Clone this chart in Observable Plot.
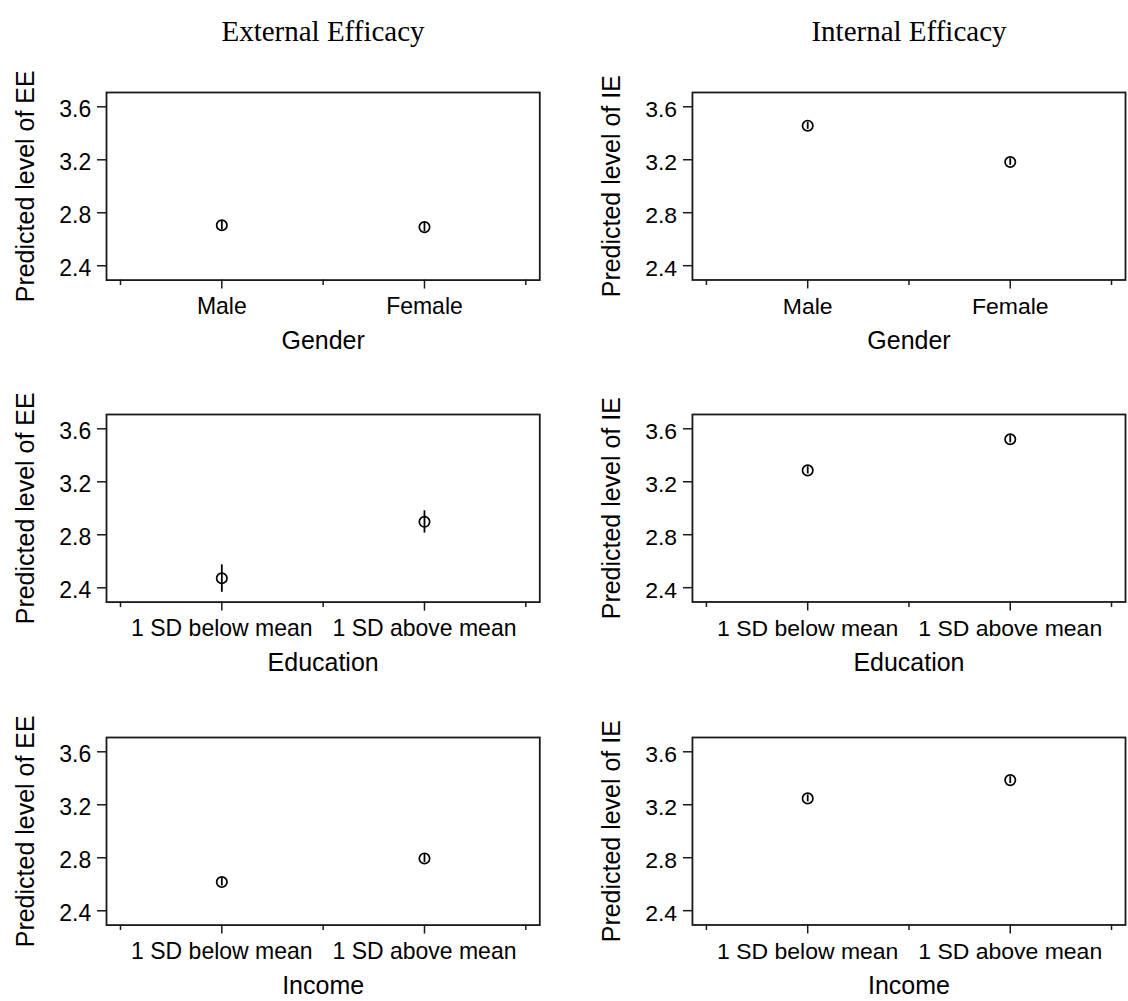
<!DOCTYPE html>
<html>
<head>
<meta charset="utf-8">
<script src="https://cdn.jsdelivr.net/npm/d3@7"></script>
<script src="https://cdn.jsdelivr.net/npm/@observablehq/plot@0.6"></script>
<style>
  html, body { margin: 0; padding: 0; background: #fff; overflow: hidden; }
  #wrap { position: relative; width: 1128px; height: 1001px; background: #fff; }
  .title { position: absolute; width: 434px; text-align: center; font-family: "Liberation Serif", "Times New Roman", serif; font-size: 29px; line-height: 29px; color: #000; }
  .panel { position: absolute; }
</style>
</head>
<body>
<div id="wrap">
  <div class="title" style="left:106px; top:17px;">External Efficacy</div>
  <div class="title" style="left:692px; top:17px;">Internal Efficacy</div>
</div>
<script>
// ---- data ----
const genderCats = ["Male", "Female"];
const sdCats = ["1 SD below mean", "1 SD above mean"];
const yTicks = [2.4, 2.8, 3.2, 3.6];
const yDomain = [2.292, 3.708];

// External efficacy (EE)
const eeGender = [2.706, 2.692];
const eeGenderLo = [2.672, 2.658];
const eeGenderHi = [2.740, 2.726];
const eeEducation = [2.472, 2.898];
const eeEducationLo = [2.366, 2.813];
const eeEducationHi = [2.573, 2.981];
const eeIncome = [2.617, 2.795];
const eeIncomeLo = [2.587, 2.765];
const eeIncomeHi = [2.647, 2.825];

// Internal efficacy (IE)
const ieGender = [3.457, 3.183];
const ieGenderLo = [3.430, 3.158];
const ieGenderHi = [3.484, 3.208];
const ieEducation = [3.286, 3.521];
const ieEducationLo = [3.259, 3.494];
const ieEducationHi = [3.313, 3.548];
const ieIncome = [3.248, 3.386];
const ieIncomeLo = [3.222, 3.360];
const ieIncomeHi = [3.274, 3.412];

const panels = [
  {row: 0, col: 0, ylab: "Predicted level of EE", xlab: "Gender", cats: genderCats, v: eeGender, lo: eeGenderLo, hi: eeGenderHi},
  {row: 0, col: 1, ylab: "Predicted level of IE", xlab: "Gender", cats: genderCats, v: ieGender, lo: ieGenderLo, hi: ieGenderHi},
  {row: 1, col: 0, ylab: "Predicted level of EE", xlab: "Education", cats: sdCats, v: eeEducation, lo: eeEducationLo, hi: eeEducationHi},
  {row: 1, col: 1, ylab: "Predicted level of IE", xlab: "Education", cats: sdCats, v: ieEducation, lo: ieEducationLo, hi: ieEducationHi},
  {row: 2, col: 0, ylab: "Predicted level of EE", xlab: "Income", cats: sdCats, v: eeIncome, lo: eeIncomeLo, hi: eeIncomeHi},
  {row: 2, col: 1, ylab: "Predicted level of IE", xlab: "Income", cats: sdCats, v: ieIncome, lo: ieIncomeLo, hi: ieIncomeHi}
];

const MT = 24, FH = 187.6, MB = 76;
const rowTops = [91.7, 414.3, 737];
const colLefts = [0, 586.3];

function makePanel(p) {
  const data = p.cats.map((c, i) => ({x: i + 1, cat: c, v: p.v[i], lo: p.lo[i], hi: p.hi[i]}));
  return Plot.plot({
    width: 542,
    height: MT + FH + MB,
    marginLeft: 106,
    marginRight: 2.7,
    marginTop: MT,
    marginBottom: MB,
    style: {fontFamily: "'Liberation Sans', Arial, Helvetica, sans-serif", fontSize: "23px", color: "#000", background: "white", overflow: "visible"},
    x: {domain: [0.431, 2.569]},
    y: {domain: yDomain},
    marks: [
      Plot.frame({stroke: "#1a1a1a", strokeWidth: 1.8}),
      Plot.axisY({ticks: yTicks, tickSize: 9, fill: "none", strokeWidth: 1.5, stroke: "#1a1a1a"}),
      Plot.axisY({ticks: yTicks, tickSize: 0, tickPadding: 15.3, dy: 3.3, tickFormat: d => d.toFixed(1), label: null, fill: "#000"}),
      Plot.axisX({ticks: [1, 2], tickSize: 9, fill: "none", strokeWidth: 1.5, stroke: "#1a1a1a"}),
      Plot.axisX({ticks: [0.5, 1.5, 2.5], tickSize: 5.5, fill: "none", strokeWidth: 1.5, stroke: "#1a1a1a"}),
      Plot.axisX({ticks: [1, 2], tickSize: 0, tickPadding: 17.7, tickFormat: d => p.cats[d - 1], label: null, fill: "#000"}),
      Plot.ruleX(data, {x: "x", y1: "lo", y2: "hi", stroke: "#000", strokeWidth: 1.8}),
      Plot.dot(data, {x: "x", y: "v", r: 5.2, stroke: "#000", strokeWidth: 1.7, fill: "none"}),
      Plot.text([p.xlab], {frameAnchor: "bottom", dy: 69.2, text: d => d, fontSize: 25, lineAnchor: "bottom", textAnchor: "middle", fill: "#000"}),
      Plot.text([p.ylab], {frameAnchor: "left", dx: -72.7, rotate: -90, text: d => d, fontSize: 25, lineAnchor: "bottom", textAnchor: "middle", fill: "#000"})
    ]
  });
}

const wrap = document.getElementById("wrap");
for (const p of panels) {
  const el = makePanel(p);
  const div = document.createElement("div");
  div.className = "panel";
  div.style.left = colLefts[p.col] + "px";
  div.style.top = (rowTops[p.row] - MT) + "px";
  div.appendChild(el);
  wrap.appendChild(div);
}
</script>
</body>
</html>
